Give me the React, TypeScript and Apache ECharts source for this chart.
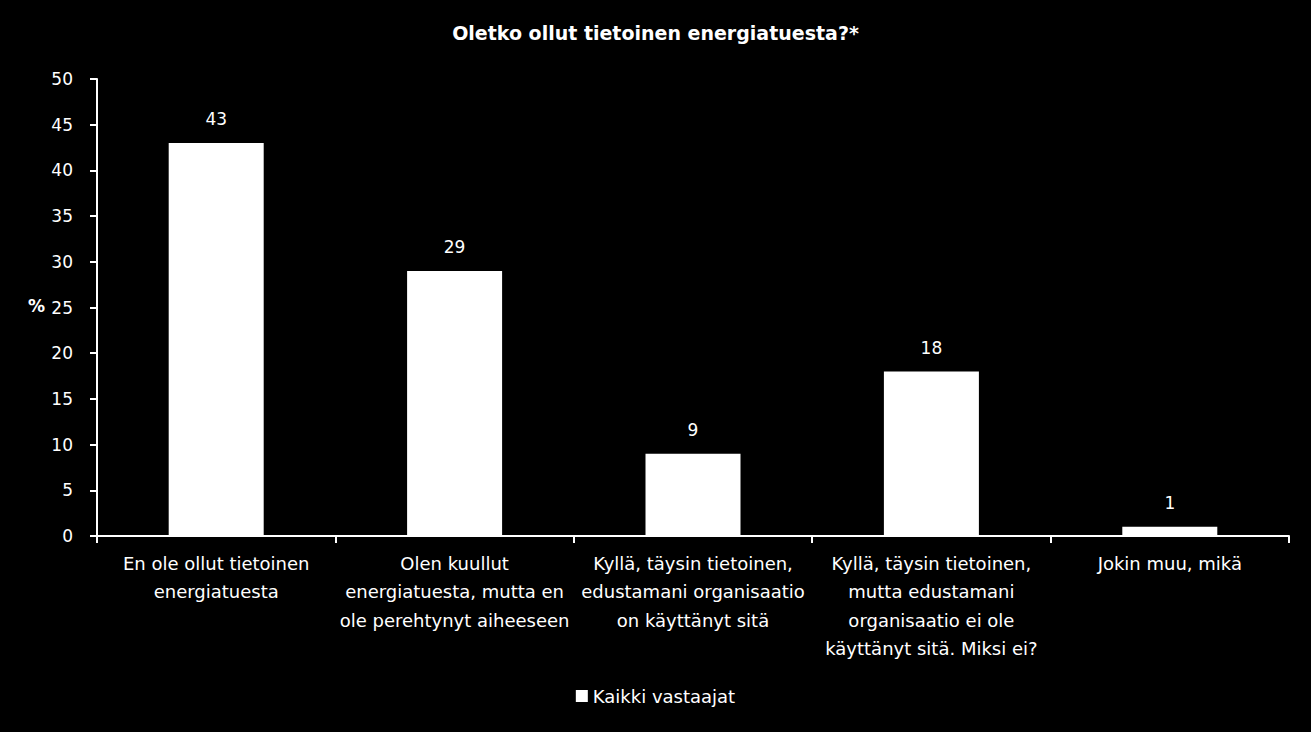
import React, { useEffect, useRef } from "react";
import * as echarts from "echarts";

const categories = [
  "En ole ollut tietoinen\nenergiatuesta",
  "Olen kuullut\nenergiatuesta, mutta en\nole perehtynyt aiheeseen",
  "Kyllä, täysin tietoinen,\nedustamani organisaatio\non käyttänyt sitä",
  "Kyllä, täysin tietoinen,\nmutta edustamani\norganisaatio ei ole\nkäyttänyt sitä. Miksi ei?",
  "Jokin muu, mikä",
];
const values = [43, 29, 9, 18, 1];
const seriesName = "Kaikki vastaajat";
const titleText = "Oletko ollut tietoinen energiatuesta?*";

const FONT = "'DejaVu Sans', sans-serif";

export default function App() {
  const ref = useRef<HTMLDivElement>(null);
  useEffect(() => {
    if (!ref.current) return;
    const chart = echarts.init(ref.current, null, { renderer: "svg" });
    chart.setOption({
      animation: false,
      backgroundColor: "#000000",
      textStyle: { fontFamily: FONT },
      title: {
        text: titleText,
        left: "center",
        top: 18,
        textStyle: { color: "#ffffff", fontSize: 19, fontWeight: "bold", fontFamily: FONT },
      },
      grid: { left: 97, right: 22, top: 79, bottom: 196, containLabel: false },
      legend: {
        bottom: 22,
        left: "center",
        itemWidth: 12,
        itemHeight: 12,
        itemGap: 5,
        icon: "rect",
        textStyle: { color: "#ffffff", fontSize: 18, fontFamily: FONT },
        data: [seriesName],
      },
      graphic: [
        {
          type: "text",
          left: 28,
          top: 297,
          style: { text: "%", fill: "#ffffff", fontSize: 17, fontWeight: "bold", fontFamily: FONT },
        },
      ],
      xAxis: {
        type: "category",
        data: categories,
        axisLine: { lineStyle: { color: "#ffffff", width: 2 } },
        axisTick: { show: true, length: 7, alignWithLabel: false, lineStyle: { color: "#ffffff", width: 2 } },
        axisLabel: {
          color: "#ffffff",
          fontSize: 18,
          lineHeight: 28.5,
          margin: 13,
          interval: 0,
          fontFamily: FONT,
        },
      },
      yAxis: {
        type: "value",
        min: 0,
        max: 50,
        interval: 5,
        splitLine: { show: false },
        axisLine: { show: true, lineStyle: { color: "#ffffff", width: 2 } },
        axisTick: { show: true, length: 7, lineStyle: { color: "#ffffff", width: 2 } },
        axisLabel: { color: "#ffffff", fontSize: 17, margin: 24, fontFamily: FONT },
      },
      series: [
        {
          name: seriesName,
          type: "bar",
          data: values,
          barWidth: 95,
          itemStyle: { color: "#ffffff" },
          label: {
            show: true,
            position: "top",
            distance: 15,
            color: "#ffffff",
            fontSize: 17,
            fontFamily: FONT,
          },
        },
      ],
    });
    return () => chart.dispose();
  }, []);
  return <div ref={ref} style={{ width: 1311, height: 732, position: "absolute", left: 0, top: 0 }} />;
}
